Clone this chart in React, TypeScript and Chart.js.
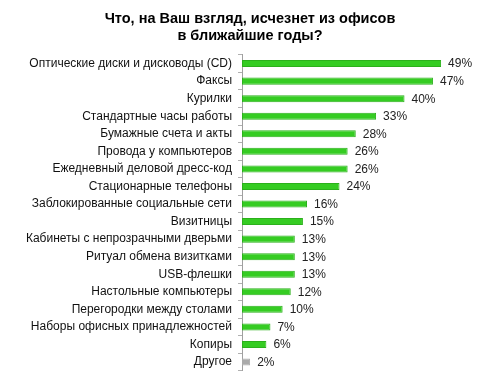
import React, { useEffect, useRef } from "react";
import { Chart, registerables } from "chart.js";

Chart.register(...registerables);

const titleLines = ["Что, на Ваш взгляд, исчезнет из офисов", "в ближайшие годы?"];

const categories = [
  "Оптические диски и дисководы (CD)",
  "Факсы",
  "Курилки",
  "Стандартные часы работы",
  "Бумажные счета и акты",
  "Провода у компьютеров",
  "Ежедневный деловой дресс-код",
  "Стационарные телефоны",
  "Заблокированные социальные сети",
  "Визитницы",
  "Кабинеты с непрозрачными дверьми",
  "Ритуал обмена визитками",
  "USB-флешки",
  "Настольные компьютеры",
  "Перегородки между столами",
  "Наборы офисных принадлежностей",
  "Копиры",
  "Другое",
];

const values = [49, 47, 40, 33, 28, 26, 26, 24, 16, 15, 13, 13, 13, 12, 10, 7, 6, 2];

const GREEN = "#35cc22";
const GREEN_BORDER = "#2cb01c";
const GRAY = "#aaaaaa";

const valueLabelPlugin = {
  id: "valueLabels",
  afterDatasetsDraw(chart: any) {
    const { ctx } = chart;
    const meta = chart.getDatasetMeta(0);
    ctx.save();
    ctx.font = "12px 'Liberation Sans', Arial, sans-serif";
    ctx.fillStyle = "#222222";
    ctx.textAlign = "left";
    ctx.textBaseline = "middle";
    meta.data.forEach((bar: any, i: number) => {
      ctx.fillText(values[i] + "%", bar.x + 7, bar.y + 0.5);
    });
    ctx.restore();
  },
};

export default function App() {
  const ref = useRef<HTMLCanvasElement | null>(null);

  useEffect(() => {
    document.body.style.margin = "0";
    if (!ref.current) return;
    const chart = new Chart(ref.current, {
      type: "bar",
      data: {
        labels: categories,
        datasets: [
          {
            data: values,
            backgroundColor: categories.map((c, i) => (i === categories.length - 1 ? GRAY : GREEN)),
            borderColor: categories.map((c, i) => (i === categories.length - 1 ? GRAY : GREEN_BORDER)),
            borderWidth: 1,
            borderSkipped: false,
            categoryPercentage: 1,
            barPercentage: 0.4,
          },
        ],
      },
      options: {
        indexAxis: "y",
        animation: false,
        responsive: false,
        maintainAspectRatio: false,
        layout: { padding: { left: 0, right: 0, top: 0, bottom: 12 } },
        plugins: {
          legend: { display: false },
          tooltip: { enabled: false },
          title: {
            display: true,
            text: titleLines,
            color: "#000000",
            font: { family: "'Liberation Sans', Arial, sans-serif", size: 14.5, weight: "bold", lineHeight: 1.2 },
            padding: { top: 10, bottom: 10 },
          },
        },
        scales: {
          x: { display: false, min: 0, max: 63.5 },
          y: {
            afterFit(scale: any) {
              scale.width = 242;
            },
            grid: {
              display: true,
              drawOnChartArea: false,
              drawTicks: true,
              tickLength: 4,
              color: "#b0b0b0",
              offset: true,
            },
            border: { display: true, color: "#a0a0a0", width: 1 },
            ticks: {
              color: "#111111",
              padding: 6,
              font: { family: "'Liberation Sans', Arial, sans-serif", size: 12 },
              autoSkip: false,
            },
          },
        },
      },
      plugins: [valueLabelPlugin],
    } as any);
    return () => chart.destroy();
  }, []);

  return (
    <div style={{ width: 500, height: 384 }}>
      <canvas ref={ref} width={500} height={384} style={{ display: "block" }} />
    </div>
  );
}
